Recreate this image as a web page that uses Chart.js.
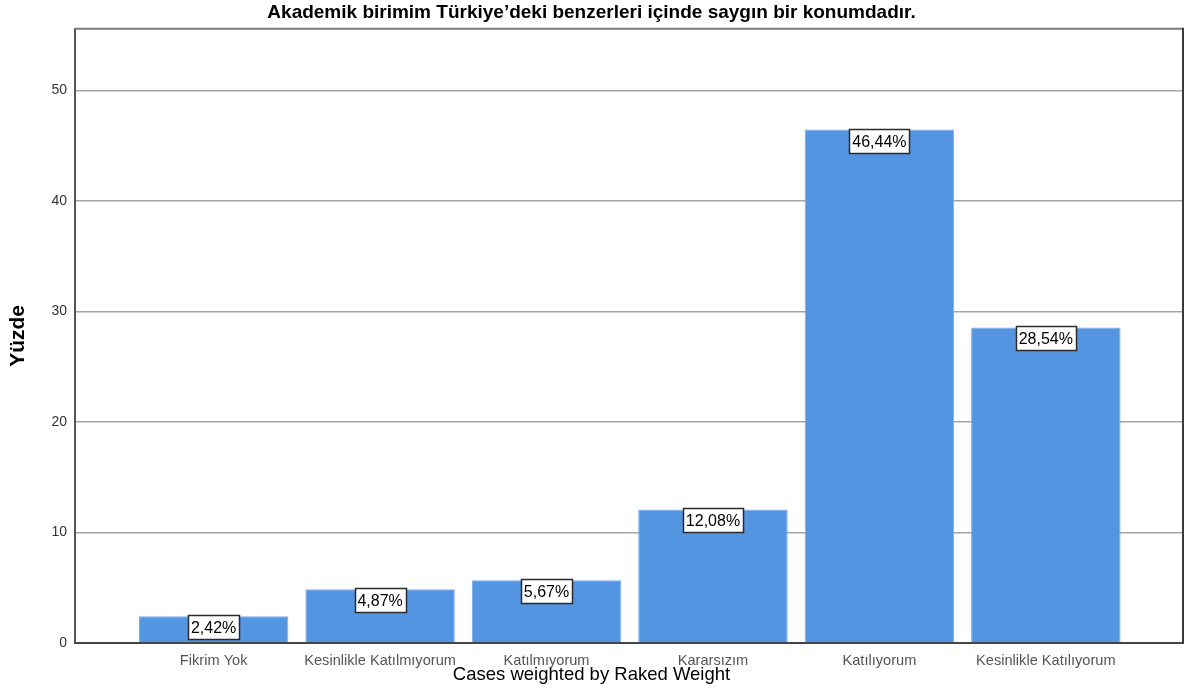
<!DOCTYPE html>
<html>
<head>
<meta charset="utf-8">
<script src="https://cdn.jsdelivr.net/npm/chart.js@4.4.1/dist/chart.umd.min.js"></script>
<style>
	html, body { margin: 0; padding: 0; background: #fff; }
	canvas { display: block; }
</style>
</head>
<body>
<canvas id="chart" width="1186" height="693"></canvas>
<script>
'use strict'

const categories = ['Fikrim Yok', 'Kesinlikle Katılmıyorum', 'Katılmıyorum', 'Kararsızım', 'Katılıyorum', 'Kesinlikle Katılıyorum'];
const percents = [2.42, 4.87, 5.67, 12.08, 46.44, 28.54];
const yTicks = [0, 10, 20, 30, 40, 50];
const yMax = 55.56;

Chart.defaults.font.family = '"Liberation Sans", Arial, sans-serif';
Chart.defaults.color = '#333';

// boxed percentage label hanging just under the top of each bar
const valueBoxes = {
	id: 'valueBoxes',
	afterDatasetsDraw(chart) {
		const ctx = chart.ctx;
		const meta = chart.getDatasetMeta(0);
		ctx.save();
		ctx.font = '16px "Liberation Sans", Arial, sans-serif';
		ctx.textAlign = 'center';
		ctx.textBaseline = 'middle';
		meta.data.forEach((bar, i) => {
			const v = chart.data.datasets[0].data[i].y;
			const text = v.toFixed(2).replace('.', ',') + '%';
			const w = Math.round(ctx.measureText(text).width) + 6;
			const h = 24;
			const x = Math.round(bar.x - w / 2) + 0.5;
			const y = Math.round(bar.y) - 0.5;
			ctx.fillStyle = '#fff';
			ctx.fillRect(x, y, w, h);
			ctx.strokeStyle = '#2b2b2b';
			ctx.lineWidth = 1.5;
			ctx.strokeRect(x, y, w, h);
			ctx.fillStyle = '#000';
			ctx.fillText(text, bar.x, y + h / 2 + 1);
		});
		ctx.restore();
	}
};

// top and right edges of the plot frame
const plotFrame = {
	id: 'plotFrame',
	afterDraw(chart) {
		const { ctx, chartArea: a } = chart;
		ctx.save();
		ctx.lineWidth = 2;
		ctx.strokeStyle = '#7a7a7a';
		ctx.beginPath();
		ctx.moveTo(a.left, a.top);
		ctx.lineTo(a.right, a.top);
		ctx.stroke();
		ctx.strokeStyle = '#3a3a3a';
		ctx.beginPath();
		ctx.moveTo(a.right, a.top - 1);
		ctx.lineTo(a.right, a.bottom);
		ctx.stroke();
		ctx.restore();
	}
};

new Chart(document.getElementById('chart'), {
	type: 'bar',
	data: {
		datasets: [{
			data: percents.map((v, i) => ({ x: i, y: v })),
			backgroundColor: '#5495e2',
			borderColor: '#78acea',
			borderWidth: 1,
			categoryPercentage: 1,
			barPercentage: 0.898,
		}],
	},
	options: {
		responsive: false,
		animation: false,
		layout: { padding: { left: 0, right: 3, top: 0, bottom: 0 } },
		plugins: {
			legend: { display: false },
			tooltip: { enabled: false },
			title: {
				display: true,
				text: 'Akademik birimim Türkiye’deki benzerleri içinde saygın bir konumdadır.',
				color: '#000',
				font: { size: 19, weight: 'bold' },
				padding: { top: 1, bottom: 5 },
			},
			// short line box so the caption tucks in right under the category labels
			subtitle: {
				display: true,
				position: 'bottom',
				text: 'Cases weighted by Raked Weight',
				color: '#000',
				font: { size: 18.5, lineHeight: 0.6 },
				padding: { top: 0, bottom: 12.5 },
			},
		},
		scales: {
			x: {
				type: 'linear',
				offset: false,
				min: -0.833,
				max: 5.824,
				afterBuildTicks: (s) => { s.ticks = categories.map((_, i) => ({ value: i })); },
				afterFit: (s) => { s.height = 26.4; },
				ticks: {
					color: '#555',
					font: { size: 14.6 },
					padding: 9,
					maxRotation: 0,
					autoSkip: false,
					callback: (v) => categories[v],
				},
				grid: { display: false, drawTicks: false, offset: false },
				border: { color: '#444', width: 2 },
			},
			y: {
				min: 0,
				max: yMax,
				afterBuildTicks: (s) => { s.ticks = yTicks.map(v => ({ value: v })); },
				afterFit: (s) => { s.width = 75; },
				ticks: {
					color: '#333',
					font: { size: 14 },
					padding: 8,
				},
				grid: {
					drawTicks: false,
					color: (c) => c.tick.value === 0 ? 'rgba(0,0,0,0)' : '#a4a4a4',
					lineWidth: 1.5,
				},
				border: { color: '#555', width: 2 },
				title: {
					display: true,
					text: 'Yüzde',
					color: '#000',
					font: { size: 21, weight: 'bold' },
					padding: { top: 6, bottom: 0 },
				},
			},
		},
	},
	plugins: [valueBoxes, plotFrame],
});
</script>
</body>
</html>
